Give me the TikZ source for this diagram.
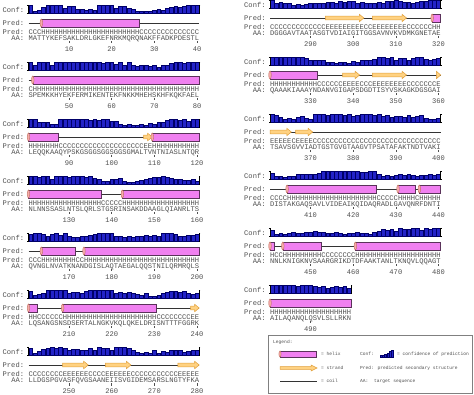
\documentclass[tikz,border=0pt]{standalone}
\usepackage{fontspec}
\newfontfamily\seqfont{Liberation Mono}
\definecolor{seqgray}{RGB}{80,80,80}
\definecolor{confblue}{RGB}{35,35,200}
\definecolor{confdark}{RGB}{0,0,105}
\definecolor{helixpink}{RGB}{240,128,240}
\definecolor{helixdark}{RGB}{90,50,90}
\definecolor{capsalmon}{RGB}{245,170,170}
\definecolor{capdark}{RGB}{190,110,90}
\definecolor{strandfill}{RGB}{255,210,130}
\definecolor{strandline}{RGB}{225,160,60}
\tikzset{
  seq/.style={font=\seqfont\fontsize{7.1}{7.1}\selectfont, text=seqgray, inner sep=0pt},
  lab/.style={seq, anchor=east},
  lgd/.style={font=\seqfont\fontsize{4.6}{4.6}\selectfont, text=seqgray, inner sep=0pt, anchor=west},
  confbar/.style={fill=confblue, draw=confdark, line width=0.3pt},
  helix/.style={fill=helixpink, draw=helixdark, line width=0.5pt},
  helixcap/.style={fill=capsalmon, draw=capdark, line width=0.4pt},
  strand/.style={fill=strandfill, draw=strandline, line width=0.5pt},
  coil/.style={draw=black!80, line width=0.5pt},
  bracket/.style={draw=black, line width=0.7pt},
  tick/.style={draw=seqgray, line width=0.5pt}
}
\newcommand{\cw}{4.267}
% helix over residues #1..#2
\newcommand{\hlx}[2]{%
  \draw[helix] ({(#1-1)*\cw},9) rectangle ({#2*\cw},17);
  \draw[helixcap] ({(#1-1)*\cw},13) ellipse (1.3pt and 4pt);
}
% strand over residues #1..#2
\newcommand{\strd}[2]{%
  \pgfmathsetmacro\stA{(#1-1)*\cw}\pgfmathsetmacro\stB{#2*\cw}%
  \pgfmathsetmacro\stH{max(\stA,\stB-4.5)}%
  \draw[strand] (\stA,11.2) -- (\stH,11.2) -- (\stH,9.3) -- (\stB,13)
    -- (\stH,16.7) -- (\stH,14.8) -- (\stA,14.8) -- cycle;
}
% #1 x, #2 y, #3 residues, #4 conf, #5 elements, #6 pred, #7 aa, #8 first number
\newcommand{\psiblock}[8]{%
\begin{scope}[shift={(#1,#2)}]
  \node[lab] at (-\cw,0) {Conf:};
  \node[lab] at (-\cw,13) {Pred:};
  \node[lab] at (-\cw,22) {Pred:};
  \node[lab] at (-\cw,28.5) {AA:};
  \foreach \c [count=\i] in {#4}
    \draw[confbar] ({(\i-1)*\cw+0.2},3.5) rectangle ({\i*\cw-0.2},{3.5-1.2-0.75*\c});
  \draw[bracket] (-1.2,-4.8) -- (0,-4.8) -- (0,3.5) -- (-1.2,3.5);
  \draw[bracket] ({#3*\cw+1.2},-4.8) -- ({#3*\cw},-4.8) -- ({#3*\cw},3.5) -- ({#3*\cw+1.2},3.5);
  \draw[coil] (0,13) -- ({#3*\cw},13);
  #5
  \node[seq, anchor=west] at (0,22) {#6};
  \node[seq, anchor=west] at (0,28.5) {#7};
  \pgfmathtruncatemacro\nt{#3/10}
  \foreach \k in {1,...,\nt} {
    \pgfmathtruncatemacro\tnum{#8+10*(\k-1)}
    \draw[tick] ({(10*\k-0.5)*\cw},31.3) -- ++(0,2.2);
    \node[seq] at ({(10*\k-0.5)*\cw},39.5) {\tnum};
  }
\end{scope}}

\begin{document}
\begin{tikzpicture}[x=1pt, y=-1pt]
\fill[white] (0,0) rectangle (474,395);
\useasboundingbox (0,0) rectangle (474,395);

% left column
\psiblock{28.5}{10}{40}{9,2,3,7,9,9,9,9,6,8,8,4,4,3,4,3,9,9,9,9,6,8,8,5,4,2,2,2,2,3,4,3,5,7,8,7,8,9,9,9}
  {\hlx{4}{26}}
  {CCCHHHHHHHHHHHHHHHHHHHHHHHCCCCCCCCCCCCCC}{MATTYKEFSAKLDRLGKEFNRKMQRQNAKFFADKPDESTL}{10}
\psiblock{28.5}{67}{40}{9,6,9,9,9,5,9,9,9,9,9,9,9,9,9,9,9,8,9,9,7,9,6,9,5,4,5,5,4,5,3,5,6,8,9,9,8,9,9,9}
  {\hlx{2}{40}}
  {CHHHHHHHHHHHHHHHHHHHHHHHHHHHHHHHHHHHHHHH}{SPEMKKHYEKFERMIKENTEKFNKKMHEHSKHFKQKFAEL}{50}
\psiblock{28.5}{124}{40}{9,9,6,5,6,3,3,9,9,9,9,9,9,9,8,9,8,9,9,7,7,3,2,3,2,2,3,2,4,3,5,6,8,9,9,8,9,7,9,9}
  {\hlx{1}{7}\strd{28}{29}\hlx{30}{40}}
  {HHHHHHHCCCCCCCCCCCCCCCCCCCCEEHHHHHHHHHHH}{LEQQKAAQYPSKGSGGSGGSGGSGMALTVNTNIASLNTQR}{90}
\psiblock{28.5}{181}{40}{9,9,8,9,9,6,9,9,9,8,9,9,9,8,9,7,6,3,3,5,6,7,3,2,2,3,4,6,7,8,8,9,8,7,6,5,4,4,5,3}
  {\hlx{1}{17}\hlx{23}{40}}
  {HHHHHHHHHHHHHHHHHCCCCCHHHHHHHHHHHHHHHHHH}{NLNNSSASLNTSLQRLSTGSRINSAKDDAAGLQIANRLTS}{130}
\psiblock{28.5}{238}{40}{8,9,9,8,6,8,9,7,9,6,4,4,5,6,7,8,9,9,9,9,6,5,4,5,4,5,6,7,6,7,6,9,9,9,8,6,6,7,7,8}
  {\hlx{4}{11}\hlx{14}{40}}
  {CCCHHHHHHHHCCHHHHHHHHHHHHHHHHHHHHHHHHHHH}{QVNGLNVATKNANDGISLAQTAEGALQQSTNILQRMRQLS}{170}
\psiblock{28.5}{295}{40}{8,3,4,5,9,9,9,9,9,6,7,7,6,8,9,9,9,9,9,9,6,7,5,7,6,4,3,5,2,2,3,6,7,8,8,7,8,6,4,6}
  {\hlx{1}{2}\hlx{9}{30}\strd{39}{40}}
  {HHCCCCCCHHHHHHHHHHHHHHHHHHHHHHCCCCCCCCEE}{LQSANGSNSDSERTALNGKVKQLQKELDRISNTTTFGGRK}{210}
\psiblock{28.5}{352}{40}{8,2,4,7,8,9,8,9,8,6,7,7,5,6,8,6,9,8,8,6,9,9,9,8,6,3,2,3,2,6,2,4,3,5,6,5,3,4,6,5}
  {\strd{9}{14}\strd{19}{24}\strd{36}{40}}
  {CCCCCCCCEEEEEECCCCEEEEEECCCCCCCCCCCEEEEE}{LLDGSPGVASFQVGSAANEIISVGIDEMSARSLNGTYFKA}{250}

% right column
\psiblock{270}{5}{40}{9,6,7,6,5,3,4,3,4,5,5,6,6,7,7,6,8,7,8,8,6,7,5,6,6,7,6,8,8,9,8,7,7,6,7,8,8,9,9,9}
  {\strd{14}{22}\strd{25}{32}\hlx{39}{40}}
  {CCCCCCCCCCCCCEEEEEEEEECCEEEEEEEECCCCCCHH}{DGGGAVTAATASGTVDIAIGITGGSAVNVKVDMKGNETAE}{290}
\psiblock{270}{62}{40}{9,9,9,9,9,9,9,9,8,6,5,5,6,3,3,2,3,3,2,4,3,5,6,6,7,9,9,8,9,6,8,8,5,8,9,9,7,6,7,8}
  {\hlx{1}{11}\strd{18}{21}\strd{25}{32}\strd{40}{40}}
  {HHHHHHHHHHHCCCCCCEEEECCCEEEEEEEECCCCCCCE}{QAAAKIAAAYNDANVGIGAPSDGDTISYVSKAGKDGSGAI}{330}
\psiblock{270}{119}{40}{9,8,5,3,4,3,6,7,4,3,9,9,9,8,9,9,9,8,9,7,8,9,9,9,8,9,7,8,6,7,7,6,8,6,7,8,4,3,3,4}
  {\strd{1}{5}\strd{7}{10}}
  {EEEEECEEEECCCCCCCCCCCCCCCCCCCCCCCCCCCCCC}{TSAVSGVVIADTGSTGVGTAAGVTPSATAFAKTNDTVAKI}{370}
\psiblock{270}{176}{40}{7,3,3,2,3,3,5,5,6,5,6,7,9,9,9,9,9,9,9,9,9,8,8,9,9,6,3,4,3,4,5,4,6,4,3,4,4,5,4,5}
  {\hlx{5}{25}\hlx{31}{34}\hlx{36}{40}}
  {CCCCHHHHHHHHHHHHHHHHHHHHHCCCCCHHHHCHHHHH}{DISTAKGAQSAVLVIDEAIKQIDAQRADLGAVQNRFDNTI}{410}
\psiblock{270}{233}{40}{7,2,3,2,3,4,3,3,4,4,5,4,4,3,3,4,3,2,3,3,4,3,3,2,4,5,8,7,8,6,9,8,8,9,9,7,9,8,9,9}
  {\hlx{1}{1}\hlx{4}{12}\hlx{21}{40}}
  {HCCHHHHHHHHHCCCCCCCCHHHHHHHHHHHHHHHHHHHH}{NNLKNIGKNVSAARGRIKDTDFAAKTANLTKNQVLQQAGT}{450}
\psiblock{270}{290}{19}{9,9,9,9,9,9,8,9,9,9,8,7,8,6,7,8,7,8,6}
  {\hlx{1}{19}}
  {HHHHHHHHHHHHHHHHHHH}{AILAQANQLQSVLSLLRKN}{490}

% legend
\draw[draw=gray, line width=0.5pt] (268,335) rectangle (472,393);
\node[lgd] at (273,342) {Legend:};
\draw[helix] (280,351) rectangle (316,357);
\draw[helixcap] (280,354) ellipse (1.1pt and 3pt);
\node[lgd] at (321,354) {= helix};
\draw[strand] (280,366.6) -- (311,366.6) -- (311,365) -- (317,368) -- (311,371) -- (311,369.4) -- (280,369.4) -- cycle;
\node[lgd] at (321,368) {= strand};
\draw[coil] (280,381) -- (317,381);
\node[lgd] at (321,381) {= coil};
\node[lgd] at (360,354) {Conf:};
\foreach \c [count=\i] in {1,2,3,5,7,9}
  \draw[confbar] ({380+(\i-1)*2.3},357) rectangle ({380+\i*2.3-0.3},{357-1-0.65*\c});
\node[lgd] at (397,354) {= confidence of prediction};
\node[lgd] at (360,368) {Pred: predicted secondary structure};
\node[lgd] at (360,381) {AA:\ \ target sequence};
\end{tikzpicture}
\end{document}
